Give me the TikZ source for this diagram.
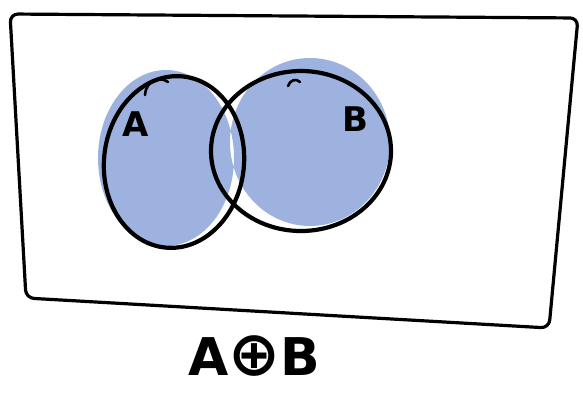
\documentclass[tikz,border=0pt]{standalone}
\usepackage{fontspec}
\setmainfont{DejaVu Sans}
\definecolor{setblue}{RGB}{158,178,223}
\tikzset{
  ink/.style={draw=black, line width=4.2pt, line cap=round, line join=round},
  frame/.style={draw=black, line width=3.2pt, line cap=round, line join=round, rounded corners=8pt},
  lab/.style={font=\bfseries\fontsize{34}{34}\selectfont, inner sep=0pt}
}
\begin{document}
\begin{tikzpicture}[x=1pt,y=-1pt]
\useasboundingbox (0,0) rectangle (583,392);
% universe
\draw[frame] (10,14) -- (578,18) -- (549,328) -- (26,298) -- cycle;
% fills (symmetric difference)
\fill[setblue, even odd rule]
  (166,158) ellipse [x radius=68, y radius=88]
  (310,142) ellipse [x radius=80, y radius=84];
% outlines
\draw[ink, rotate around={-6:(174,162)}] (174,162) ellipse [x radius=70, y radius=86];
\draw[ink] (301,151) ellipse [x radius=90, y radius=80];
% small hand-drawn hooks
\draw[black, line width=2.6pt, line cap=round] (145,95) .. controls (146,80) and (160,76) .. (168,82);
\draw[black, line width=2.6pt, line cap=round] (288,86) .. controls (290,80) and (296,78) .. (300,82);
% labels
\node[lab] (la) at (136,124) {A};
\node[lab] (lb) at (355,119) {B};
\node[font=\bfseries\fontsize{52}{52}\selectfont, inner sep=0pt, anchor=base] (res) at (254,375) {A{\fontsize{62}{62}\selectfont ⊕}B};
\end{tikzpicture}
\end{document}
